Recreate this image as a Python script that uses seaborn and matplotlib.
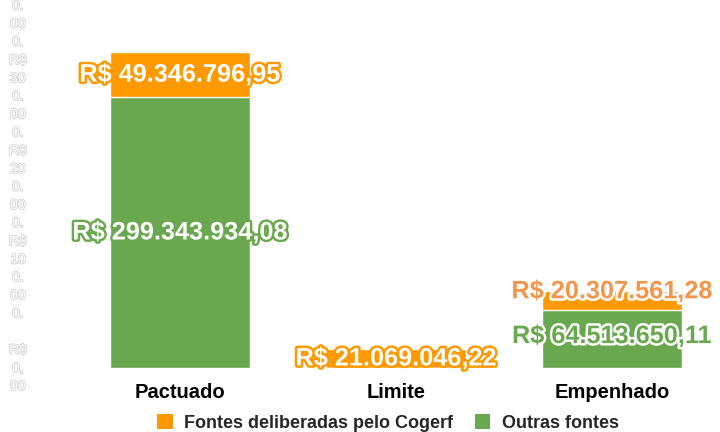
import matplotlib
matplotlib.use("Agg")
import matplotlib.pyplot as plt
import matplotlib.patheffects as pe
from matplotlib.patches import Patch
import seaborn as sns
import numpy as np

categories = ["Pactuado", "Limite", "Empenhado"]
cogerf = [49346796.95, 21069046.22, 20307561.28]
outras = [299343934.08, 0.0, 64513650.11]
yticks = [0, 100_000_000, 200_000_000, 300_000_000, 400_000_000]
series_names = ["Fontes deliberadas pelo Cogerf", "Outras fontes"]

ORANGE = "#ff9900"
GREEN = "#6aa84f"

sns.set_theme(style="white")
plt.rcParams["font.family"] = ["Liberation Sans", "DejaVu Sans"]

def brl(v):
    s = f"{v:,.2f}"
    return "R$ " + s.replace(",", "X").replace(".", ",").replace("X", ".")

fig = plt.figure(figsize=(7.2, 4.32), dpi=100)
ax = fig.add_axes([0.1, 1 - 368 / 432, 0.9, 368 / 432])

totals = [a + b for a, b in zip(cogerf, outras)]
sns.barplot(x=categories, y=totals, color=ORANGE, width=0.645, saturation=1, ax=ax)
sns.barplot(x=categories, y=outras, color=GREEN, width=0.645, saturation=1, ax=ax)

ax.set_ylim(0, 406.4e6)
ax.set_xlim(-0.5, 2.5)
for s in ax.spines.values():
    s.set_visible(False)
ax.set_xlabel("")
ax.set_ylabel("")

# y tick labels (wrapped, pale)
def tick_label(v):
    s = brl(v).replace(" ", "")
    chunks = [s[i:i + 2] for i in range(0, len(s), 2)]
    return "\n".join(chunks[:5])

ax.set_yticks(yticks)
ax.set_yticklabels([tick_label(v) for v in yticks])
ax.tick_params(axis="y", length=0, pad=39)
for t in ax.get_yticklabels():
    t.set_ha("center")
    t.set_va("center")
    t.set_multialignment("center")
    t.set_fontsize(10)
    t.set_color("white")
    t.set_linespacing(1.37)
    t.set_path_effects([pe.withStroke(linewidth=1.1, foreground="#cfcfcf")])

ax.tick_params(axis="x", length=0, pad=11)
for t in ax.get_xticklabels():
    t.set_fontsize(14.5)
    t.set_fontweight("bold")
    t.set_color("black")

# value labels
fs = 18.2
for i, cat in enumerate(categories):
    o = outras[i]
    c = cogerf[i]
    if i < 2:
        fill_c, stroke_c = "white", ORANGE
        fill_g, stroke_g = "white", GREEN
        off_c = 0
    else:
        fill_c, stroke_c = "#f3954a", "white"
        fill_g, stroke_g = GREEN, "white"
        off_c = 10e6
    if c > 0:
        ax.text(i, o + c / 2 + off_c, brl(c), ha="center", va="center",
                fontsize=fs, fontweight="bold", color=fill_c,
                path_effects=[pe.withStroke(linewidth=3.5, foreground=stroke_c)])
    if o > 0:
        ax.text(i, o / 2 + (3e6 if i == 2 else 0), brl(o), ha="center", va="center",
                fontsize=fs, fontweight="bold", color=fill_g,
                path_effects=[pe.withStroke(linewidth=3.5, foreground=stroke_g)])

handles = [Patch(facecolor=ORANGE, edgecolor="none"), Patch(facecolor=GREEN, edgecolor="none")]
fig.legend(handles, series_names, loc="center", bbox_to_anchor=(0.539, 1 - 423 / 432),
           ncol=2, frameon=False, prop={"weight": "bold", "size": 13},
           handlelength=0.85, handleheight=0.85, handletextpad=0.65, columnspacing=1.2)

fig.savefig("out.png", dpi=100)
